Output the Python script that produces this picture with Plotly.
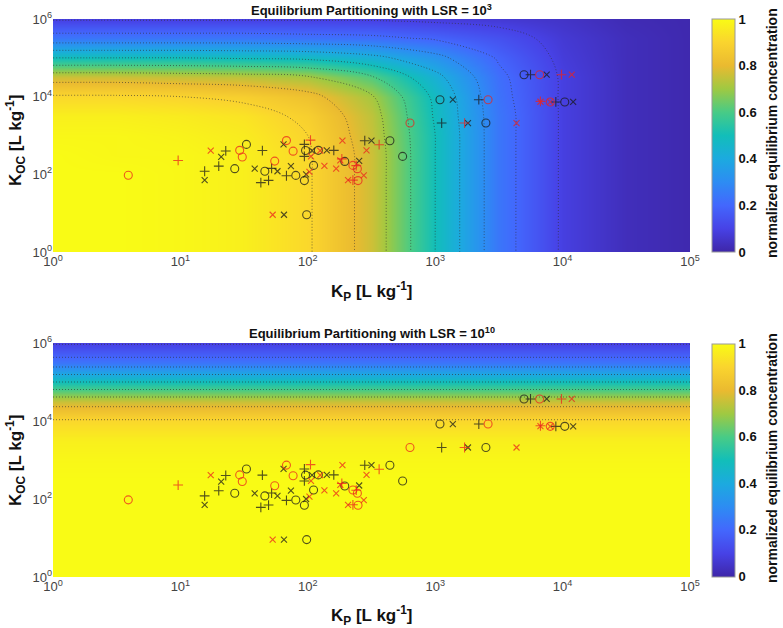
import numpy as np
import plotly.graph_objects as go

kp_exp = [0, 0.5, 1, 1.5, 2, 2.5, 3, 3.5, 4, 4.5, 5]
koc_exp = [0, 0.5, 1, 1.5, 2, 2.5, 3, 3.5, 4, 4.5, 5, 5.5, 6]

# normalized equilibrium concentration, LSR = 10^3 (rows: Koc, cols: Kp)
conc_lsr3 = [
    [1.00, 1.00, 0.99, 0.97, 0.91, 0.76, 0.50, 0.24, 0.09, 0.03, 0.01],
    [1.00, 1.00, 0.99, 0.97, 0.91, 0.76, 0.50, 0.24, 0.09, 0.03, 0.01],
    [1.00, 1.00, 0.99, 0.97, 0.91, 0.76, 0.50, 0.24, 0.09, 0.03, 0.01],
    [1.00, 1.00, 0.99, 0.97, 0.91, 0.76, 0.50, 0.24, 0.09, 0.03, 0.01],
    [1.00, 1.00, 0.99, 0.97, 0.91, 0.76, 0.50, 0.24, 0.09, 0.03, 0.01],
    [1.00, 0.99, 0.99, 0.97, 0.91, 0.76, 0.50, 0.24, 0.09, 0.03, 0.01],
    [0.99, 0.99, 0.98, 0.96, 0.90, 0.75, 0.50, 0.24, 0.09, 0.03, 0.01],
    [0.97, 0.97, 0.96, 0.94, 0.88, 0.74, 0.49, 0.24, 0.09, 0.03, 0.01],
    [0.91, 0.91, 0.90, 0.88, 0.83, 0.71, 0.48, 0.23, 0.09, 0.03, 0.01],
    [0.76, 0.76, 0.75, 0.74, 0.71, 0.61, 0.43, 0.22, 0.09, 0.03, 0.01],
    [0.50, 0.50, 0.50, 0.49, 0.48, 0.43, 0.33, 0.19, 0.08, 0.03, 0.01],
    [0.24, 0.24, 0.24, 0.24, 0.23, 0.22, 0.19, 0.14, 0.07, 0.03, 0.01],
    [0.09, 0.09, 0.09, 0.09, 0.09, 0.09, 0.08, 0.07, 0.05, 0.02, 0.01],
]
# LSR = 10^10: no Kp dependence, one value per Koc row
conc_lsr10 = [1.00, 1.00, 1.00, 1.00, 1.00, 1.00, 0.99, 0.97, 0.91, 0.76, 0.50, 0.24, 0.09]
contour_levels = [0.1, 0.9, 0.1]  # start, end, step

# measured compounds [Kp, Koc]
blk_circle_kp = [26.7, 33, 46, 80.5, 94, 96, 121, 111, 98, 195, 441, 555, 2500, 1090, 10400, 4980]
blk_circle_koc = [140, 590, 120, 94, 69, 410, 415, 170, 9.1, 215, 735, 290, 2090, 8350, 7300, 36800]
blk_plus_kp = [15.5, 20, 22.7, 44, 42.8, 49.2, 52, 68, 94, 94, 160, 280, 1124, 2200, 8850, 5600]
blk_plus_koc = [120, 163, 400, 410, 61, 70, 142, 92, 590, 290, 415, 735, 2090, 8350, 7300, 36800]
blk_x_kp = [15.5, 20.9, 38.3, 57.8, 64.5, 73.7, 65, 97, 108, 141, 253, 316, 1808, 1375, 12100, 7500]
blk_x_koc = [71, 280, 140, 120, 590, 163, 9.1, 100, 410, 415, 222, 735, 2090, 8350, 7300, 36800]
red_circle_kp = [3.9, 29.2, 30.6, 55, 68, 76.7, 226, 245, 248, 634, 2600, 8000, 6600]
red_circle_koc = [95, 415, 280, 219, 740, 395, 170, 140, 69, 2090, 8350, 7300, 36800]
red_plus_kp = [9.6, 105, 185, 240, 226, 363, 1700, 6700, 9800]
red_plus_koc = [228, 760, 250, 168, 71, 580, 2090, 7550, 36800]
red_x_kp = [17.3, 53, 103, 106, 125, 135, 167, 187, 180, 207, 275, 289, 4350, 6700, 8000, 11800]
red_x_koc = [410, 9.1, 115, 290, 410, 166, 140, 740, 230, 71, 94, 415, 2090, 7400, 7300, 36800]

parula = [
    [0.0, "rgb(62,38,168)"], [0.1, "rgb(71,66,230)"], [0.2, "rgb(67,103,253)"],
    [0.3, "rgb(45,140,243)"], [0.4, "rgb(28,170,223)"], [0.5, "rgb(18,190,185)"],
    [0.6, "rgb(72,203,134)"], [0.7, "rgb(159,201,66)"], [0.8, "rgb(234,186,48)"],
    [0.9, "rgb(250,212,46)"], [1.0, "rgb(249,251,21)"],
]

BLACK = "rgba(25,25,25,0.75)"
RED = "rgba(235,35,30,0.75)"
FONT = "Arial, Liberation Sans, sans-serif"

fig = go.Figure()

panels = [
    ("x", "y", kp_exp, conc_lsr3, 1 - 135.5 / 628),
    ("x2", "y2", [kp_exp[0], kp_exp[-1]], [[v, v] for v in conc_lsr10], 1 - 460 / 628),
]

for xa, ya, xs, z, cb_y in panels:
    fig.add_trace(go.Heatmap(
        x=xs, y=koc_exp, z=z, xaxis=xa, yaxis=ya,
        colorscale=parula, zmin=0, zmax=1, zsmooth="best", hoverinfo="skip",
        colorbar=dict(
            x=712 / 783, xanchor="left", y=cb_y, yanchor="middle",
            lenmode="pixels", len=233, thickness=23, xpad=0, ypad=0,
            outlinewidth=1, outlinecolor="#999", ticks="",
            tickvals=[0, 0.2, 0.4, 0.6, 0.8, 1],
            ticktext=["<b>0</b>", "<b>0.2</b>", "<b>0.4</b>", "<b>0.6</b>", "<b>0.8</b>", "<b>1</b>"],
            tickfont=dict(size=13, color="#111", family=FONT),
        ),
    ))
    fig.add_trace(go.Contour(
        x=xs, y=koc_exp, z=z, xaxis=xa, yaxis=ya, showscale=False, hoverinfo="skip",
        autocontour=False,
        contours=dict(start=contour_levels[0], end=contour_levels[1], size=contour_levels[2],
                      coloring="none"),
        line=dict(color="rgba(50,50,50,0.7)", width=0.9, dash="1px,2px", smoothing=1),
    ))
    series = [
        (blk_circle_kp, blk_circle_koc, "circle-open", BLACK, 8),
        (blk_plus_kp, blk_plus_koc, "cross-thin-open", BLACK, 7),
        (blk_x_kp, blk_x_koc, "x-thin-open", BLACK, 6),
        (red_circle_kp, red_circle_koc, "circle-open", RED, 8),
        (red_plus_kp, red_plus_koc, "cross-thin-open", RED, 7),
        (red_x_kp, red_x_koc, "x-thin-open", RED, 6),
    ]
    for kp, koc, sym, col, sz in series:
        fig.add_trace(go.Scatter(
            x=np.log10(kp), y=np.log10(koc), xaxis=xa, yaxis=ya, mode="markers",
            marker=dict(symbol=sym, size=sz, color=col, line=dict(color=col, width=1.1)),
            showlegend=False,
        ))

xtick = dict(tickvals=[0, 1, 2, 3, 4, 5], ticktext=[f"10<sup>{i}</sup>" for i in range(6)])
ytick = dict(tickvals=[0, 2, 4, 6], ticktext=[f"10<sup>{i}</sup>" for i in (0, 2, 4, 6)])
axis_common = dict(showgrid=False, zeroline=False, ticks="", showline=False,
                   tickfont=dict(size=13, color="#444", family=FONT))

fig.update_layout(
    width=783, height=628,
    margin=dict(l=0, r=0, t=0, b=0, autoexpand=False),
    paper_bgcolor="white", plot_bgcolor="white",
    showlegend=False,
    font=dict(family=FONT),
    xaxis=dict(domain=[53 / 783, 690 / 783], range=[0, 5], anchor="y", **xtick, **axis_common),
    yaxis=dict(domain=[1 - 252 / 628, 1 - 19 / 628], range=[0, 6], anchor="x", **ytick, **axis_common),
    xaxis2=dict(domain=[53 / 783, 690 / 783], range=[0, 5], anchor="y2", **xtick, **axis_common),
    yaxis2=dict(domain=[1 - 577 / 628, 1 - 343 / 628], range=[0, 6], anchor="x2", **ytick, **axis_common),
)

title_font = dict(size=13, color="#111", family=FONT)
label_font = dict(size=17, color="#111", family=FONT)
cb_font = dict(size=14, color="#111", family=FONT)
xlab = "<b>K<sub>P</sub> [L kg<sup>-1</sup>]</b>"
ylab = "<b>K<sub>OC</sub> [L kg<sup>-1</sup>]</b>"
cblab = "<b>normalized equilibrium concentration</b>"
xc = (53 + 690) / 2 / 783
annots = [
    dict(text="<b>Equilibrium Partitioning with LSR = 10<sup>3</sup></b>", x=xc, y=1 - 10 / 628,
         font=title_font),
    dict(text="<b>Equilibrium Partitioning with LSR = 10<sup>10</sup></b>", x=xc, y=1 - 333 / 628,
         font=title_font),
    dict(text=xlab, x=xc, y=1 - 291 / 628, font=label_font),
    dict(text=xlab, x=xc, y=1 - 615 / 628, font=label_font),
    dict(text=ylab, x=15 / 783, y=1 - 141 / 628, font=label_font, textangle=-90),
    dict(text=ylab, x=15 / 783, y=1 - 461 / 628, font=label_font, textangle=-90),
    dict(text=cblab, x=772 / 783, y=1 - 133 / 628, font=cb_font, textangle=-90),
    dict(text=cblab, x=772 / 783, y=1 - 458 / 628, font=cb_font, textangle=-90),
]
for a in annots:
    fig.add_annotation(xref="paper", yref="paper", showarrow=False,
                       xanchor="center", yanchor="middle", **a)

# the page body has a default 8px margin; drop it so the figure fills the window
fig.write_html("out.html", config={"displayModeBar": False},
               post_script="document.body.style.margin='0';document.body.style.overflow='hidden';")
